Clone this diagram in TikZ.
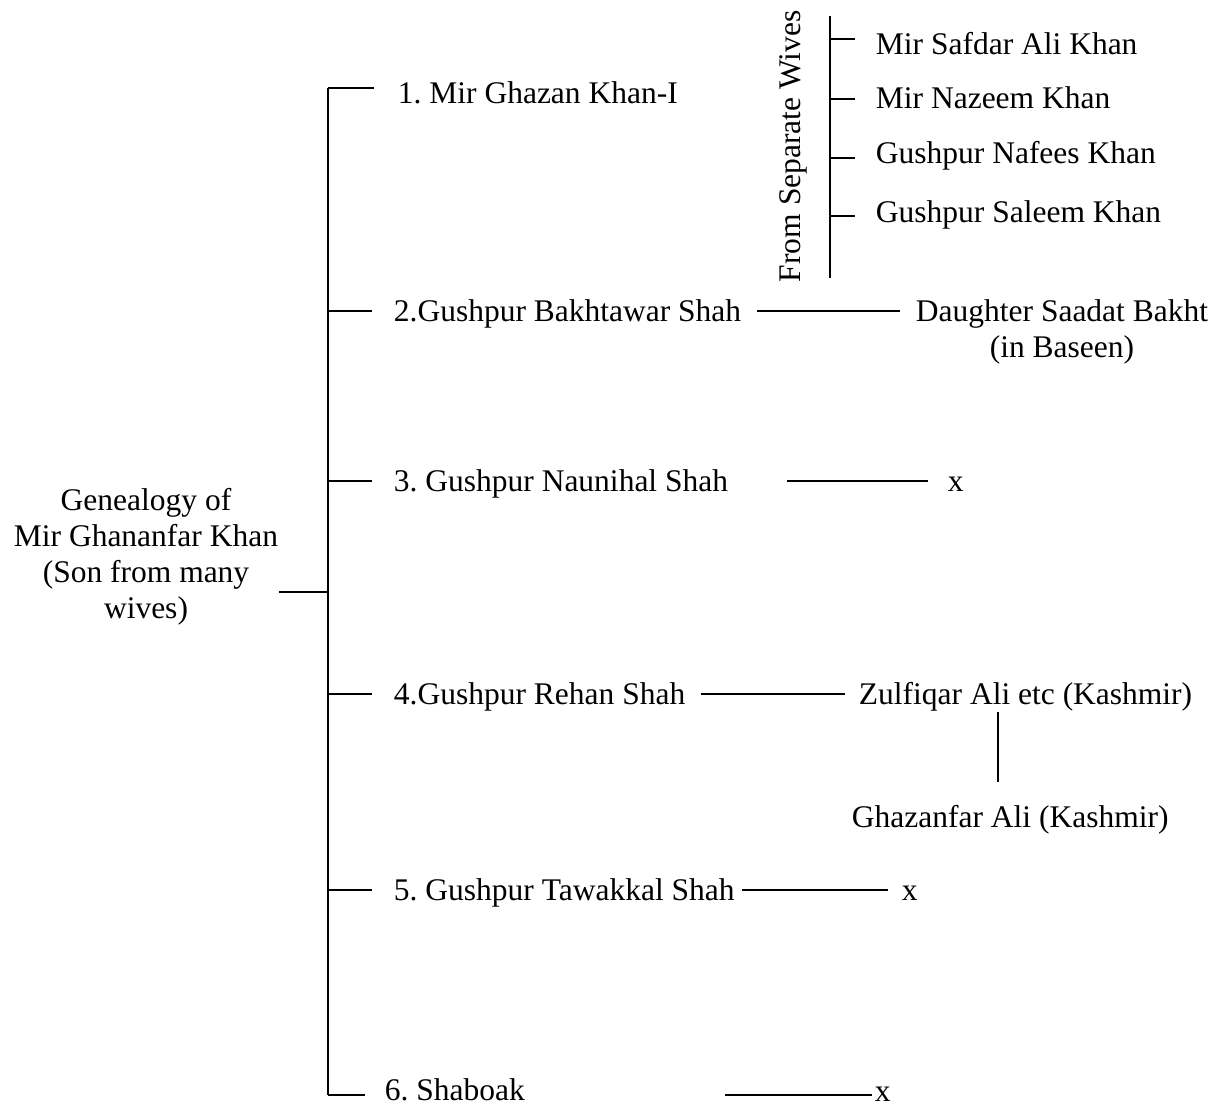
\documentclass[tikz,border=0pt]{standalone}
\usepackage{fontspec}
\setmainfont{Liberation Serif}
\frenchspacing
\usetikzlibrary{positioning}
\tikzset{
  gtree/.style={x=1pt, y=-1pt, line width=1.8pt},
  nm/.style   ={anchor=base west, inner sep=0pt, font=\fontsize{31.5}{36}\selectfont},
  rt/.style   ={align=center, inner sep=0pt, font=\fontsize{31.5}{36}\selectfont},
  stub/.style ={shorten >=#1}
}
\begin{document}
\begin{tikzpicture}[gtree]
\useasboundingbox (0,0) rectangle (1222,1109);
\node[rt] (root) at (146,557) {Genealogy of\\Mir Ghananfar Khan\\(Son from many\\wives)};
\node[nm] (g1) at (397,103)  {1. Mir Ghazan Khan-I};
\node[nm] (g2) at (393,321)  {2.Gushpur Bakhtawar Shah};
\node[nm] (g3) at (393,491)  {3. Gushpur Naunihal Shah};
\node[nm] (g4) at (393,704)  {4.Gushpur Rehan Shah};
\node[nm] (g5) at (393,900)  {5. Gushpur Tawakkal Shah};
\node[nm] (g6) at (384,1100) {6. Shaboak};
\node[nm, rotate=90] (sep) at (800,283) {From Separate Wives};
\node[nm] (m1) at (875,54)  {Mir Safdar Ali Khan};
\node[nm] (m2) at (875,108) {Mir Nazeem Khan};
\node[nm] (m3) at (875,163) {Gushpur Nafees Khan};
\node[nm] (m4) at (875,222) {Gushpur Saleem Khan};
\node[nm, align=center, anchor=north west] (d2) at (915,299) {Daughter Saadat Bakht\\(in Baseen)};
\node[nm] (x3) at (947,491)  {x};
\node[nm] (z4) at (858,704)  {Zulfiqar Ali etc (Kashmir)};
\node[nm] (gz) at (851,827)  {Ghazanfar Ali (Kashmir)};
\node[nm] (x5) at (901,900)  {x};
\node[nm] (x6) at (874,1101) {x};

\foreach \i/\y in {0/592,1/88,2/311,3/481,4/694,5/890,6/1095}
  \coordinate (j\i) at (328,\y);
\draw (j1) -- (j6);
\draw (root.east |- j0) -- (j0);
\foreach \i/\s in {1/23,2/21,3/21,4/21,5/21,6/19}
  \draw[stub=\s pt] (j\i) -- (j\i -| g\i.west);

\coordinate (bt) at (830,16);
\coordinate (bb) at (830,278);
\foreach \i/\y in {1/39,2/99,3/158,4/216}
  \coordinate (s\i) at (830,\y);
\draw (bt) -- (bb);
\foreach \i in {1,...,4}
  \draw[stub=20pt] (s\i) -- (s\i -| m\i.west);

\draw[shorten <=15pt, shorten >=15pt] (j2 -| g2.east) -- (j2 -| d2.west);
\draw[shorten <=58pt, shorten >=19pt] (j3 -| g3.east) -- (j3 -| x3.west);
\draw[shorten <=15pt, shorten >=13pt] (j4 -| g4.east) -- (j4 -| z4.west);
\draw[shorten <=6pt,  shorten >=13pt] (j5 -| g5.east) -- (j5 -| x5.west);
\draw[shorten <=199pt, shorten >=2pt] (j6 -| g6.east) -- (j6 -| x6.west);
\coordinate (v4) at ([xshift=-12pt]gz.north);
\draw[shorten >=22pt] (v4 |- z4.south) -- (v4);
\end{tikzpicture}
\end{document}
